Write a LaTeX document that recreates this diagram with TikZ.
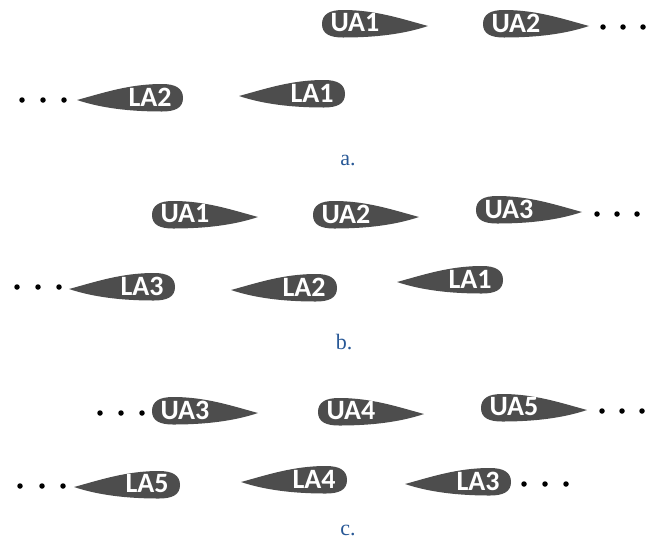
\documentclass[tikz,border=0pt]{standalone}
\usepackage{fontspec}
\setmainfont{Liberation Serif}
\newfontfamily\foilfont{Carlito}
\definecolor{foilgray}{RGB}{77,77,77}
\definecolor{capblue}{RGB}{40,88,150}
\tikzset{
  foilshape/.pic={
    \fill[foilgray] (0,0) .. controls (0,-10) and (8,-14) .. (21,-14)
      .. controls (54,-14) and (80,-5) .. (106,2)
      .. controls (82,10) and (54,13.5) .. (21,13.5)
      .. controls (8,13.5) and (0,10) .. (0,0) -- cycle;
  },
  foillabel/.style={text=white, font=\foilfont\bfseries\fontsize{28}{28}\selectfont, inner sep=0pt, anchor=center},
  dotmark/.style={circle, fill=black, inner sep=0pt, minimum size=5.5pt},
  caption/.style={text=capblue, font=\fontsize{22}{22}\selectfont, inner sep=0pt}
}
\newcommand{\UA}[4]{% name, nose x, center y, text
  \pic at (#2,#3) {foilshape};
  \node[foillabel] (#1) at (#2+33,#3-1) {#4};
}
\newcommand{\LA}[4]{%
  \pic[xscale=-1] at (#2,#3) {foilshape};
  \node[foillabel] (#1) at (#2-33,#3-1) {#4};
}
\begin{document}
\begin{tikzpicture}[x=1pt,y=-1pt]
\useasboundingbox (0,0) rectangle (647,544);
% ---- a ----
\UA{aUA1}{322}{24}{UA1}
\UA{aUA2}{483}{24}{UA2}
\node[dotmark] (ad1) at (603,27) {};
\node[dotmark] (ad2) at (623,27) {};
\node[dotmark] (ad3) at (643,27) {};
\LA{aLA2}{183}{98}{LA2}
\LA{aLA1}{345}{94}{LA1}
\node[dotmark] (ad4) at (22,100) {};
\node[dotmark] (ad5) at (43,100) {};
\node[dotmark] (ad6) at (64,100) {};
\node[caption] (capa) at (348,160) {a.};
% ---- b ----
\UA{bUA1}{152}{215}{UA1}
\UA{bUA2}{313}{215}{UA2}
\UA{bUA3}{476}{210}{UA3}
\node[dotmark] (bd1) at (597,214) {};
\node[dotmark] (bd2) at (617,214) {};
\node[dotmark] (bd3) at (637,214) {};
\LA{bLA3}{175}{287}{LA3}
\LA{bLA2}{337}{288}{LA2}
\LA{bLA1}{503}{280}{LA1}
\node[dotmark] (bd4) at (17,287) {};
\node[dotmark] (bd5) at (38,287) {};
\node[dotmark] (bd6) at (59,287) {};
\node[caption] (capb) at (344,342) {b.};
% ---- c ----
\node[dotmark] (cd1) at (100,413) {};
\node[dotmark] (cd2) at (121,413) {};
\node[dotmark] (cd3) at (142,413) {};
\UA{cUA3}{152}{411}{UA3}
\UA{cUA4}{318}{412}{UA4}
\UA{cUA5}{481}{408}{UA5}
\node[dotmark] (cd4) at (602,411) {};
\node[dotmark] (cd5) at (622,411) {};
\node[dotmark] (cd6) at (642,411) {};
\node[dotmark] (cd7) at (20,486) {};
\node[dotmark] (cd8) at (42,486) {};
\node[dotmark] (cd9) at (63,486) {};
\LA{cLA5}{180}{485}{LA5}
\LA{cLA4}{347}{480}{LA4}
\LA{cLA3}{511}{482}{LA3}
\node[dotmark] (cd10) at (524,484) {};
\node[dotmark] (cd11) at (545,484) {};
\node[dotmark] (cd12) at (566,484) {};
\node[caption] (capc) at (348,530) {c.};
\end{tikzpicture}
\end{document}
